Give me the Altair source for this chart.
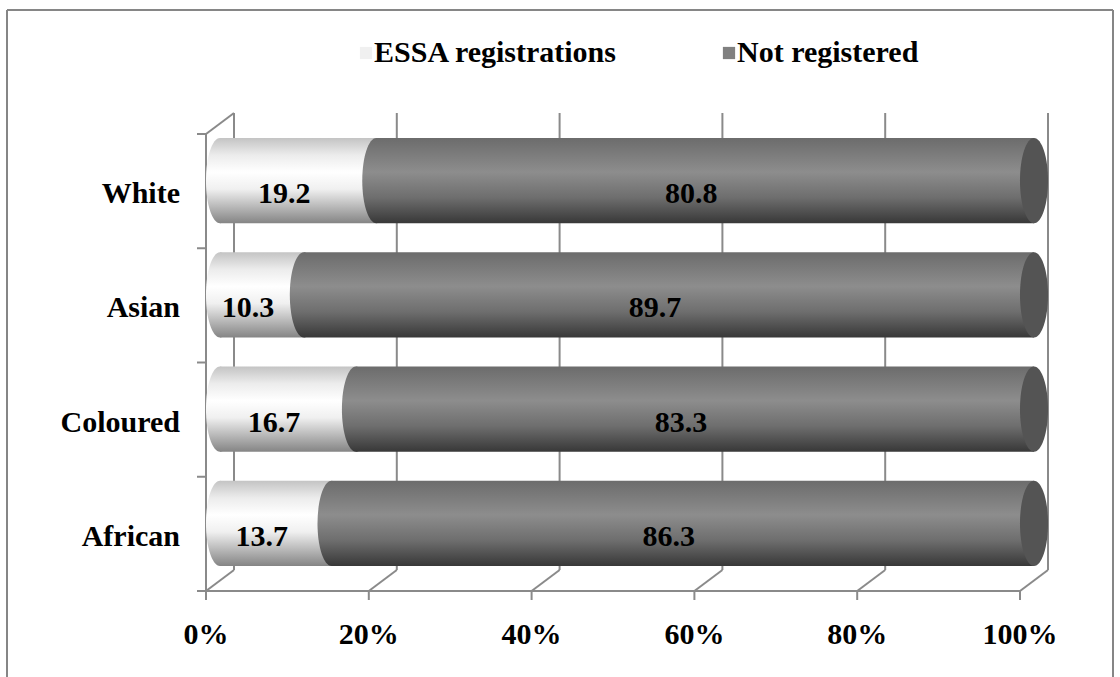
import altair as alt
import pandas as pd

# ---- data -------------------------------------------------------------
categories = ["White", "Asian", "Coloured", "African"]
essa = [19.2, 10.3, 16.7, 13.7]
not_registered = [80.8, 89.7, 83.3, 86.3]
series = ["ESSA registrations", "Not registered"]
x_ticks = [0, 20, 40, 60, 80, 100]
tick_labels = ["0%", "20%", "40%", "60%", "80%", "100%"]

# ---- styling ----------------------------------------------------------
FONT = "Liberation Serif"
FS = 30
GRID = "#8a8a8a"
DX, DY = 28, -21            # depth of the 3-D box (pixels)
HX, HY = DX / 2, DY / 2     # cylinders sit half way into the box
BAND_PX = (591 - 134) / len(categories)
BAR_FRAC = 0.744
BAR_PX = BAR_FRAC * BAND_PX
ELLIPSE = "M0,-1 A0.33,1 0 1,1 0,1 A0.33,1 0 1,1 0,-1 Z"

X = alt.Scale(domain=[x_ticks[0], x_ticks[-1]], range=[206, 1020], nice=False, zero=False)
Y = alt.Scale(domain=[0, len(categories)], range=[591, 134], nice=False, zero=False)

light_grad = alt.Gradient(
    gradient="linear", x1=0, x2=0, y1=0, y2=1,
    stops=[
        alt.GradientStop(offset=0.0, color="#c4c4c4"),
        alt.GradientStop(offset=0.2, color="#ececec"),
        alt.GradientStop(offset=0.4, color="#ffffff"),
        alt.GradientStop(offset=0.6, color="#f0f0f0"),
        alt.GradientStop(offset=0.85, color="#adadad"),
        alt.GradientStop(offset=1.0, color="#858585"),
    ],
)
dark_grad = alt.Gradient(
    gradient="linear", x1=0, x2=0, y1=0, y2=1,
    stops=[
        alt.GradientStop(offset=0.0, color="#6c6c6c"),
        alt.GradientStop(offset=0.4, color="#8d8d8d"),
        alt.GradientStop(offset=0.7, color="#6e6e6e"),
        alt.GradientStop(offset=1.0, color="#383838"),
    ],
)

n = len(categories)
bars = pd.DataFrame({
    "category": categories,
    "essa": essa,
    "nr": not_registered,
    "pos": [n - 1 - i + 0.5 for i in range(n)],
})
bars["total"] = bars["essa"] + bars["nr"]
bars["essa_mid"] = bars["essa"] / 2
bars["nr_mid"] = bars["essa"] + bars["nr"] / 2
bars["y0"] = bars["pos"] - BAR_FRAC / 2
bars["y1"] = bars["pos"] + BAR_FRAC / 2
bars["zero"] = 0

ticks = pd.DataFrame({"v": x_ticks, "label": tick_labels})
ticks["lo"] = 0
ticks["hi"] = n

bounds = pd.DataFrame({"b": list(range(n + 1))})
bounds["x0"] = x_ticks[0]

frame = pd.DataFrame({"a": [x_ticks[0]], "b": [x_ticks[-1]], "lo": [0], "hi": [n]})

xq = lambda f: alt.X(f, type="quantitative", scale=X, axis=None)
yq = lambda f: alt.Y(f, type="quantitative", scale=Y, axis=None)

# ---- 3-D box: back wall gridlines, floor diagonals, front axes ------------
back_grid = alt.Chart(ticks).mark_rule(
    color=GRID, strokeWidth=2, xOffset=DX, x2Offset=DX, yOffset=DY, y2Offset=DY
).encode(x=xq("v"), y=yq("lo"), y2="hi")

floor_diag = alt.Chart(ticks).mark_rule(
    color=GRID, strokeWidth=2, x2Offset=DX, y2Offset=DY
).encode(x=xq("v"), x2="v", y=yq("lo"), y2="lo")

x_tick_marks = alt.Chart(ticks).mark_rule(
    color=GRID, strokeWidth=2, y2Offset=9
).encode(x=xq("v"), y=yq("lo"), y2="lo")

front_x_axis = alt.Chart(frame).mark_rule(color=GRID, strokeWidth=2).encode(
    x=xq("a"), x2="b", y=yq("lo"), y2="lo")

front_y_axis = alt.Chart(frame).mark_rule(color=GRID, strokeWidth=2).encode(
    x=xq("a"), x2="a", y=yq("lo"), y2="hi")

top_diag = alt.Chart(frame).mark_rule(
    color=GRID, strokeWidth=2, x2Offset=DX, y2Offset=DY
).encode(x=xq("a"), x2="a", y=yq("hi"), y2="hi")

y_tick_marks = alt.Chart(bounds).mark_rule(
    color=GRID, strokeWidth=2, xOffset=-9
).encode(x=xq("x0"), x2="x0", y=yq("b"), y2="b")

# ---- cylinders --------------------------------------------------------
rect_kw = dict(xOffset=HX, x2Offset=HX, yOffset=HY, y2Offset=HY, strokeWidth=0)
cap_kw = dict(shape=ELLIPSE, size=BAR_PX ** 2, filled=True, opacity=1,
              strokeWidth=0, xOffset=HX, yOffset=HY)

base = alt.Chart(bars)
light_cap = base.mark_point(color=light_grad, **cap_kw).encode(x=xq("zero"), y=yq("pos"))
light_body = base.mark_rect(color=light_grad, **rect_kw).encode(
    x=xq("zero"), x2="essa", y=yq("y0"), y2="y1")
dark_start = base.mark_point(color=dark_grad, **cap_kw).encode(x=xq("essa"), y=yq("pos"))
dark_body = base.mark_rect(color=dark_grad, **rect_kw).encode(
    x=xq("essa"), x2="total", y=yq("y0"), y2="y1")
dark_end = base.mark_point(color="#545454", **cap_kw).encode(x=xq("total"), y=yq("pos"))

# ---- labels -----------------------------------------------------------
txt_kw = dict(font=FONT, fontSize=FS, fontWeight="bold", color="black", baseline="middle")

essa_lbl = base.mark_text(align="center", dy=3, **txt_kw).encode(
    x=xq("essa_mid"), y=yq("pos"), text=alt.Text("essa:Q", format=".1f"))
nr_lbl = base.mark_text(align="center", dy=3, **txt_kw).encode(
    x=xq("nr_mid"), y=yq("pos"), text=alt.Text("nr:Q", format=".1f"))
cat_lbl = base.mark_text(align="right", dy=3, **txt_kw).encode(
    x=alt.value(180), y=yq("pos"), text="category:N")
x_lbl = alt.Chart(ticks).mark_text(align="center", **txt_kw).encode(
    x=xq("v"), y=alt.value(635), text="label:N")

# ---- legend -----------------------------------------------------------
legend_layers = []
for name, swatch, sx in [(series[0], "#f0f0f0", 366), (series[1], "#808080", 729)]:
    ldf = pd.DataFrame({"series": [name]})
    legend_layers.append(
        alt.Chart(ldf).mark_square(size=150, color=swatch, opacity=1, filled=True).encode(
            x=alt.value(sx), y=alt.value(53)))
    legend_layers.append(
        alt.Chart(ldf).mark_text(align="left", **txt_kw).encode(
            x=alt.value(sx + 8), y=alt.value(53), text="series:N"))

# ---- outer frame ------------------------------------------------------
frame_src = pd.DataFrame({"k": [0]})
border = [
    alt.Chart(frame_src).mark_rule(color="#868686", strokeWidth=2).encode(
        x=alt.value(7), x2=alt.value(1113), y=alt.value(10), y2=alt.value(10)),
    alt.Chart(frame_src).mark_rule(color="#868686", strokeWidth=2).encode(
        x=alt.value(7), x2=alt.value(7), y=alt.value(10), y2=alt.value(677)),
    alt.Chart(frame_src).mark_rule(color="#868686", strokeWidth=2).encode(
        x=alt.value(1113), x2=alt.value(1113), y=alt.value(10), y2=alt.value(677)),
]

chart = alt.layer(
    *border,
    back_grid, floor_diag, x_tick_marks, front_x_axis, front_y_axis, top_diag, y_tick_marks,
    light_cap, light_body, dark_start, dark_body, dark_end,
    essa_lbl, nr_lbl, cat_lbl, x_lbl,
    *legend_layers,
).properties(
    width=1120, height=677,
    padding=0,
    autosize=alt.AutoSizeParams(type="none"),
    background="white",
).configure_view(stroke=None)

chart.save("out.html", embed_options={"renderer": "svg", "actions": False})
